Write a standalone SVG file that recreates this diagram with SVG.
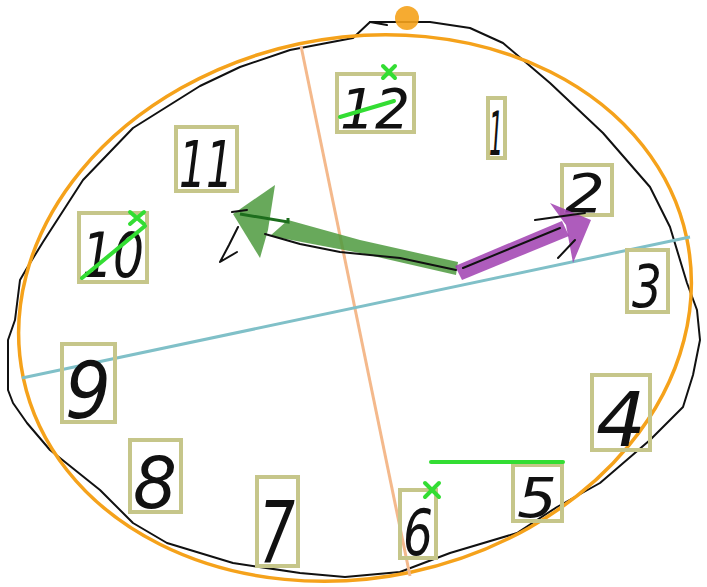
<svg xmlns="http://www.w3.org/2000/svg" width="707" height="587" viewBox="0 0 707 587">
<style>
.box{fill:none;stroke:#c6c68a;stroke-width:4}
.dg{font-family:"DejaVu Sans","Liberation Sans",sans-serif;font-weight:200;font-style:italic;fill:#111;text-anchor:middle}
.mark{stroke:#33dd33;stroke-width:4;stroke-linecap:round;fill:none}
.ink{fill:none;stroke:#111;stroke-width:2;stroke-linejoin:round;stroke-linecap:round}
</style>
<rect width="707" height="587" fill="#fff"/>
<g id="outline">
<path class="ink" d="M353,38 L370,22 L430,22 L470,28 L503,43 L550,83 L603,133 L650,187 L670,227 L687,283 L697,310 L700,340 L693,375 L683,407 L650,440 L600,483 L557,507 L517,533 L450,553 L400,572 L345,577 L300,573 L233,563 L167,543 L133,523 L100,490 L50,450 L27,423 L13,403 L8,390 L8,340 L15,320 L20,280 L27,268 L43,242 L83,180 L133,128 L200,86 L240,67 L290,50 Z"/>
<path class="ink" d="M370,22 L387,25"/>
</g>
<g id="fit-ellipse">
<ellipse cx="355" cy="308" rx="339" ry="270" transform="rotate(-11.9 355 308)" fill="none" stroke="#f5a21b" stroke-width="3.5"/>
<circle cx="407" cy="18" r="12" fill="#f5a21b" fill-opacity="0.9"/>
</g>
<g id="axes">
<line x1="301" y1="46" x2="410" y2="576" stroke="#f4b98c" stroke-width="3"/>
<line x1="22" y1="378" x2="690" y2="237" stroke="#80c0c8" stroke-width="3"/>
</g>
<g id="boxes">
<rect class="box" x="337" y="74" width="77" height="58"/>
<rect class="box" x="488" y="98" width="17" height="60"/>
<rect class="box" x="562" y="165" width="50" height="50"/>
<rect class="box" x="627" y="250" width="41" height="62"/>
<rect class="box" x="592" y="375" width="58" height="75"/>
<rect class="box" x="513" y="465" width="49" height="56"/>
<rect class="box" x="400" y="490" width="36" height="68"/>
<rect class="box" x="257" y="477" width="41" height="89"/>
<rect class="box" x="130" y="440" width="51" height="72"/>
<rect class="box" x="62" y="344" width="53" height="78"/>
<rect class="box" x="79" y="213" width="68" height="69"/>
<rect class="box" x="176" y="127" width="61" height="64"/>
</g>
<g id="digits">
<text class="dg" x="375" y="128" font-size="56" textLength="70" lengthAdjust="spacingAndGlyphs">12</text>
<text class="dg" x="496" y="155" font-size="60" textLength="14" lengthAdjust="spacingAndGlyphs">1</text>
<text class="dg" x="585" y="212" font-size="54" textLength="40" lengthAdjust="spacingAndGlyphs">2</text>
<text class="dg" x="647" y="307" font-size="58" textLength="30" lengthAdjust="spacingAndGlyphs">3</text>
<text class="dg" x="621" y="446" font-size="74" textLength="50" lengthAdjust="spacingAndGlyphs">4</text>
<text class="dg" x="537" y="517" font-size="56" textLength="40" lengthAdjust="spacingAndGlyphs">5</text>
<text class="dg" x="418" y="555" font-size="64" textLength="30" lengthAdjust="spacingAndGlyphs">6</text>
<text class="dg" x="277" y="562" font-size="86" textLength="36" lengthAdjust="spacingAndGlyphs">7</text>
<text class="dg" x="155" y="508" font-size="72" textLength="44" lengthAdjust="spacingAndGlyphs">8</text>
<text class="dg" x="88" y="418" font-size="78" textLength="46" lengthAdjust="spacingAndGlyphs">9</text>
<text class="dg" x="113" y="277" font-size="62" textLength="62" lengthAdjust="spacingAndGlyphs">10</text>
<text class="dg" x="206" y="187" font-size="64" textLength="54" lengthAdjust="spacingAndGlyphs">11</text>
</g>
<g id="arrows">
<polygon points="458,262 360,240 288,220 270,236 360,253 456,275" fill="#4e9a3e" fill-opacity="0.85"/>
<polygon points="233,214 275,185 268,230 260,258" fill="#4e9a3e" fill-opacity="0.85"/>
<polygon points="455,266 562,221 569,236 462,280" fill="#a040b0" fill-opacity="0.85"/>
<polygon points="591,220 550,203 566,225 573,263" fill="#a040b0" fill-opacity="0.85"/>
</g>
<g id="hands-ink">
<path class="ink" d="M456,270 L400,258 L340,252 L300,244 L265,234"/>
<path class="ink" d="M232,212 L247,210 M238,227 L229,245 L220,262 L237,252"/>
<path fill="none" stroke="#1d6e1d" stroke-width="3" d="M240,214 L288,222 L288,218"/>
<path class="ink" d="M535,220 L585,213 M463,268 L560,228 M558,258 L575,240"/>
</g>
<g id="marks">
<path class="mark" d="M383,66 L395,78 M395,66 L383,78"/>
<line class="mark" x1="340" y1="117" x2="394" y2="101"/>
<path class="mark" d="M130,212 L144,224 M144,212 L130,224"/>
<line class="mark" x1="82" y1="278" x2="145" y2="226"/>
<path class="mark" d="M425,483 L439,497 M439,483 L425,497"/>
<line class="mark" x1="431" y1="462" x2="563" y2="462"/>
</g>
</svg>
